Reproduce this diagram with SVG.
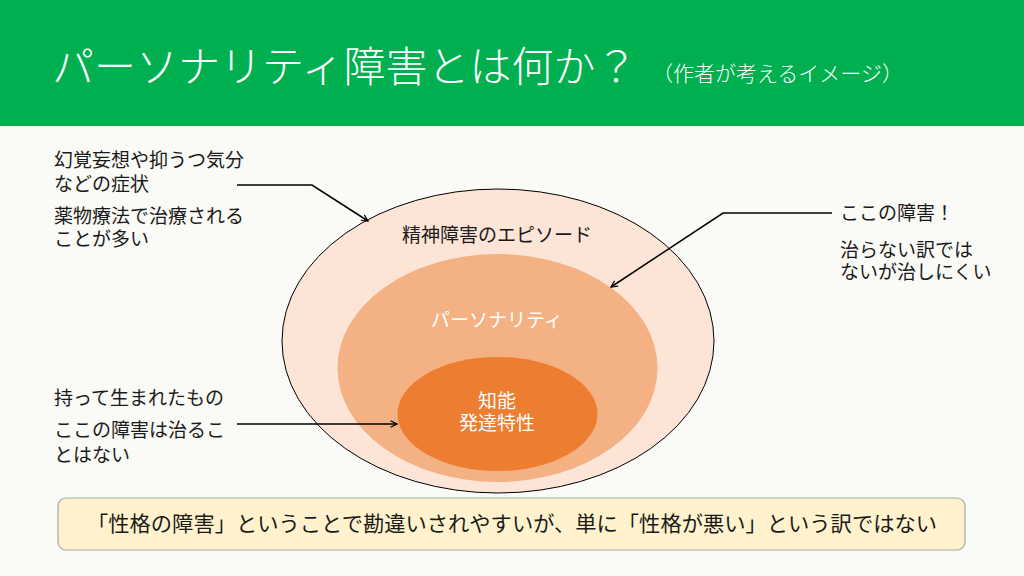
<svg xmlns="http://www.w3.org/2000/svg" width="1024" height="576" viewBox="0 0 1024 576">
<defs>
<style>
text{font-family:"Noto Sans CJK JP","Noto Sans",sans-serif;}
.lbl{font-size:19px;fill:#1a1a1a;}
.wh{font-size:19px;fill:#ffffff;}
.conn{fill:none;stroke:#000;stroke-width:1.5;marker-end:url(#arr);}
</style>
<marker id="arr" viewBox="0 0 10 10" refX="9" refY="5" markerWidth="8" markerHeight="8" markerUnits="userSpaceOnUse" orient="auto">
<path d="M1,1 L9,5 L1,9" fill="none" stroke="#000" stroke-width="1.5"/>
</marker>
</defs>
<rect width="1024" height="576" fill="#FAFBF6"/>
<g id="header">
<rect x="0" y="0" width="1024" height="126" fill="#00B050"/>
<text x="52" y="82" font-size="42" fill="#ffffff" font-weight="300">パーソナリティ障害とは何か？</text>
<text x="652" y="81" font-size="21" fill="#ffffff" font-weight="300">（作者が考えるイメージ）</text>
</g>
<g id="episode">
<ellipse cx="498" cy="341" rx="216" ry="152" fill="#FCE4D6" stroke="#000" stroke-width="1"/>
<text x="497" y="242" class="lbl" text-anchor="middle">精神障害のエピソード</text>
</g>
<g id="personality">
<ellipse cx="497.5" cy="368" rx="160" ry="114" fill="#F4B183"/>
<text x="497" y="327" class="wh" text-anchor="middle">パーソナリティ</text>
</g>
<g id="innate">
<ellipse cx="497.5" cy="414" rx="100" ry="57" fill="#ED7D31"/>
<text x="497" y="408" class="wh" text-anchor="middle">知能</text>
<text x="497" y="430" class="wh" text-anchor="middle">発達特性</text>
</g>
<g id="note-symptoms">
<text x="54" y="167" class="lbl">幻覚妄想や抑うつ気分</text>
<text x="54" y="191" class="lbl">などの症状</text>
<text x="54" y="223" class="lbl">薬物療法で治療される</text>
<text x="54" y="246" class="lbl">ことが多い</text>
</g>
<g id="note-personality">
<text x="840" y="220" class="lbl">ここの障害！</text>
<text x="840" y="257" class="lbl">治らない訳では</text>
<text x="840" y="279" class="lbl">ないが治しにくい</text>
</g>
<g id="note-innate">
<text x="54" y="405" class="lbl">持って生まれたもの</text>
<text x="54" y="437" class="lbl">ここの障害は治るこ</text>
<text x="54" y="462" class="lbl">とはない</text>
</g>
<g id="connectors">
<polyline class="conn" points="237,185 312,185 368,221"/>
<polyline class="conn" points="832,213 723,213 611,287"/>
<polyline class="conn" points="237,424 397,424"/>
</g>
<g id="summary">
<rect x="58" y="498" width="907" height="52" rx="8" ry="8" fill="#FFF2CC" stroke="#A6A6A6" stroke-width="1.2"/>
<text x="87" y="531" font-size="21" fill="#1a1a1a" textLength="850" lengthAdjust="spacingAndGlyphs">「性格の障害」ということで勘違いされやすいが、単に「性格が悪い」という訳ではない</text>
</g>
</svg>
